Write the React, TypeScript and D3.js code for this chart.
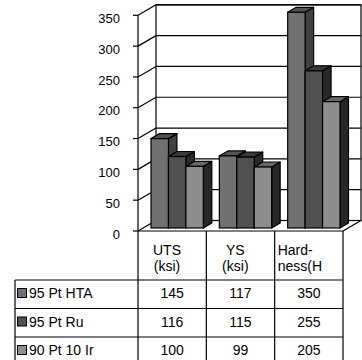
import React from "react";
import * as d3 from "d3";

const categories = ["UTS", "YS", "Hardness"];
const headerLines = [["UTS", "(ksi)"], ["YS", "(ksi)"], ["Hard-", "ness(Hv)"]];
const seriesNames = ["95 Pt HTA", "95 Pt Ru", "90 Pt 10 Ir"];
const htaValues = [145, 117, 350];
const ruValues = [116, 115, 255];
const irValues = [100, 99, 205];
const yTicks = [0, 50, 100, 150, 200, 250, 300, 350];

const seriesValues = [htaValues, ruValues, irValues];
const faceColors = [
  { front: "#717171", top: "#535353", side: "#414141" },
  { front: "#515151", top: "#3a3a3a", side: "#2a2a2a" },
  { front: "#8e8e8e", top: "#686868", side: "#272727" },
];

const W = 362;
const H = 360;
const FONT = "'Liberation Sans', Arial, sans-serif";

// plot geometry (front plane)
const xLeft = 138;
const xRight = 343;
const floorY = 231;
const topY = 15.3;
// wall depth offset
const DX = 18;
const DY = -10.5;
// bar front plane offset and bar depth
const BDX = 5;
const BDY = -3;
const BAR_DX = 8.5;
const BAR_DY = -5;

// table rows
const headerBottom = 280;
const rowH = 28.5;
const tableLeft = 15;

export default function App() {
  const y = d3.scaleLinear().domain([0, 350]).range([floorY, topY]);
  const xBand = d3.scaleBand<string>().domain(categories).range([xLeft, xRight]);
  const inner = d3
    .scaleBand<string>()
    .domain(seriesNames)
    .range([0, xBand.bandwidth()])
    .paddingOuter(0.46);

  const stroke = "#000";
  const sw = 1.2;

  const pts = (arr: [number, number][]) => arr.map((p) => p.join(",")).join(" ");

  const bars: React.ReactNode[] = [];
  categories.forEach((cat, ci) => {
    seriesNames.forEach((s, si) => {
      const v = seriesValues[si][ci];
      const x0 = (xBand(cat) as number) + (inner(s) as number) + BDX;
      const x1 = x0 + inner.bandwidth();
      const yb = y(0) + BDY;
      const yt = y(v) + BDY;
      const c = faceColors[si];
      bars.push(
        <g key={`${cat}-${s}`}>
          <polygon
            points={pts([[x1, yt], [x1 + BAR_DX, yt + BAR_DY], [x1 + BAR_DX, yb + BAR_DY], [x1, yb]])}
            fill={c.side}
            stroke={stroke}
            strokeWidth={sw}
            strokeLinejoin="round"
          />
          <polygon
            points={pts([[x0, yt], [x0 + BAR_DX, yt + BAR_DY], [x1 + BAR_DX, yt + BAR_DY], [x1, yt]])}
            fill={c.top}
            stroke={stroke}
            strokeWidth={sw}
            strokeLinejoin="round"
          />
          <rect x={x0} y={yt} width={x1 - x0} height={yb - yt} fill={c.front} stroke={stroke} strokeWidth={sw} />
        </g>
      );
    });
  });

  const colEdges = [xLeft, ...categories.map((c) => (xBand(c) as number) + xBand.bandwidth())];
  const rowTops = seriesNames.map((_, i) => headerBottom + i * rowH);

  return (
    <svg
      width={W}
      height={H}
      style={{ position: "absolute", left: 0, top: 0, background: "#fff" }}
      fontFamily={FONT}
    >
      <defs>
        <clipPath id="lastCol">
          <rect x={colEdges[2]} y={floorY} width={47.5} height={headerBottom - floorY} />
        </clipPath>
      </defs>

      {/* back wall */}
      <rect x={xLeft + DX} y={y(350) + DY} width={xRight - xLeft} height={y(0) - y(350)} fill="#fff" stroke={stroke} strokeWidth={sw} />
      {/* gridlines on back wall and side wall */}
      {yTicks.map((t) => (
        <g key={t}>
          <line x1={xLeft + DX} x2={xRight + DX} y1={y(t) + DY} y2={y(t) + DY} stroke={stroke} strokeWidth={sw} />
          <line x1={xLeft} x2={xLeft + DX} y1={y(t)} y2={y(t) + DY} stroke={stroke} strokeWidth={sw} />
          <line x1={xLeft - 5} x2={xLeft} y1={y(t)} y2={y(t)} stroke={stroke} strokeWidth={sw} />
          <text x={120} y={y(t) + 7.7} textAnchor="end" fontSize={13} fill="#000">
            {t}
          </text>
        </g>
      ))}
      {/* floor right edge */}
      <line x1={xRight} x2={xRight + DX} y1={y(0)} y2={y(0) + DY} stroke={stroke} strokeWidth={sw} />
      {/* front value axis */}
      <line x1={xLeft} x2={xLeft} y1={y(350)} y2={y(0)} stroke={stroke} strokeWidth={sw} />

      {bars}

      {/* data table */}
      <g stroke={stroke} strokeWidth={sw}>
        <line x1={xLeft} x2={xRight} y1={floorY} y2={floorY} />
        {colEdges.map((x, i) => (
          <line key={i} x1={x} x2={x} y1={floorY} y2={H + 6} />
        ))}
        <line x1={tableLeft} x2={tableLeft} y1={headerBottom} y2={H + 6} />
        {rowTops.map((ry, i) => (
          <line key={i} x1={tableLeft} x2={xRight} y1={ry} y2={ry} />
        ))}
      </g>

      {headerLines.map((lines, ci) => {
        const left = colEdges[ci];
        const last = ci === categories.length - 1;
        return (
          <g key={ci} clipPath={last ? "url(#lastCol)" : undefined}>
            {lines.map((ln, li) => (
              <text
                key={li}
                x={last ? left + 3 : left + 29}
                y={255 + li * 15.5}
                textAnchor={last ? "start" : "middle"}
                fontSize={14}
                fill="#000"
              >
                {ln}
              </text>
            ))}
          </g>
        );
      })}

      {seriesNames.map((s, si) => {
        const ry = rowTops[si];
        return (
          <g key={s}>
            <rect x={17.5} y={ry + 8.5} width={9} height={9} fill={faceColors[si].front} stroke={stroke} strokeWidth={1} />
            <text x={29} y={ry + 18} fontSize={14} fill="#000">
              {s}
            </text>
            {categories.map((c, ci) => (
              <text
                key={c}
                x={(xBand(c) as number) + xBand.bandwidth() / 2}
                y={ry + 18}
                textAnchor="middle"
                fontSize={14}
                fill="#000"
              >
                {seriesValues[si][ci]}
              </text>
            ))}
          </g>
        );
      })}
    </svg>
  );
}
